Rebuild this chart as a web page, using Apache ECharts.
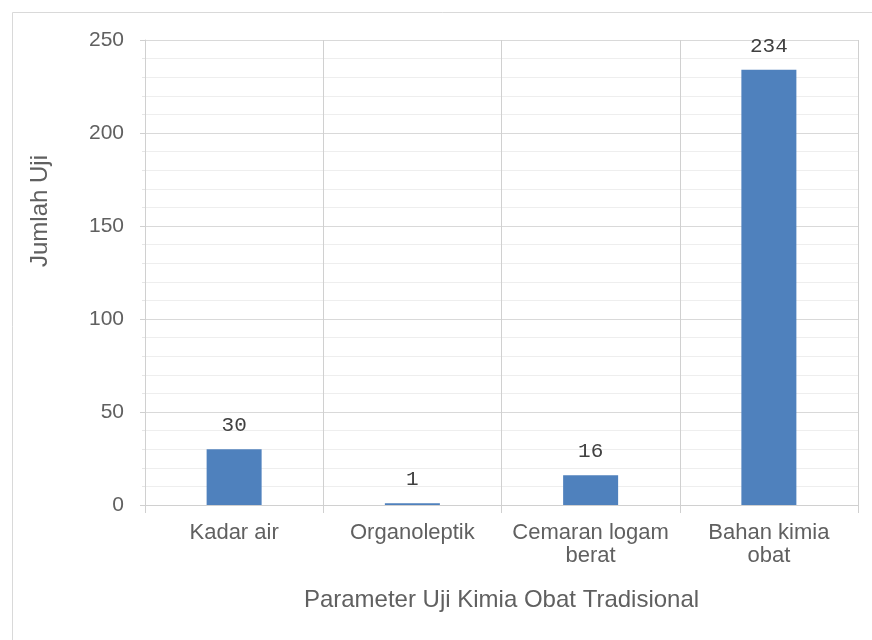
<!DOCTYPE html>
<html>
<head>
<meta charset="utf-8">
<script src="https://cdn.jsdelivr.net/npm/echarts@6/dist/echarts.min.js"></script>
<style>
html,body{margin:0;padding:0;background:#fff;}
#c{width:872px;height:640px;}
</style>
</head>
<body>
<div id="c"></div>
<script>
var categories = ['Kadar air', 'Organoleptik', 'Cemaran logam\nberat', 'Bahan kimia\nobat'];
var values = [30, 1, 16, 234];
var yTicks = [0, 50, 100, 150, 200, 250];
var xTitle = 'Parameter Uji Kimia Obat Tradisional';
var yTitle = 'Jumlah Uji';

var chart = echarts.init(document.getElementById('c'));
var textColor = '#606060';
chart.setOption({
  animation: false,
  backgroundColor: '#fff',
  grid: { left: 145, right: 14, top: 40, bottom: 135 },
  graphic: [
    { type: 'rect', shape: { x: 12.5, y: 12.5, width: 880, height: 660 },
      style: { fill: 'none', stroke: '#d9d9d9', lineWidth: 1 }, z: -1 },
    { type: 'text', x: 40, y: 211, rotation: Math.PI / 2,
      style: { text: yTitle, fill: textColor, font: '24px "Liberation Sans", Arial, sans-serif',
               align: 'center', verticalAlign: 'middle' } }
  ],
  xAxis: {
    type: 'category',
    data: categories,
    name: xTitle,
    nameLocation: 'middle',
    nameGap: 83,
    nameTextStyle: { color: textColor, fontSize: 24, fontFamily: 'Liberation Sans' },
    axisLine: { show: true, lineStyle: { color: '#d0d0d0' } },
    axisTick: { show: true, length: 8, lineStyle: { color: '#d0d0d0' } },
    splitLine: { show: true, lineStyle: { color: '#d0d0d0' } },
    axisLabel: { color: textColor, fontSize: 22, fontFamily: 'Liberation Sans', margin: 16, lineHeight: 23, interval: 0 }
  },
  yAxis: {
    type: 'value',
    min: yTicks[0],
    max: yTicks[yTicks.length - 1],
    interval: 50,
    axisLine: { show: true, lineStyle: { color: '#d0d0d0' } },
    axisTick: { show: true, length: 5, lineStyle: { color: '#d0d0d0' } },
    minorTick: { show: true, splitNumber: 5, length: 3, lineStyle: { color: '#e6e6e6' } },
    splitLine: { show: true, lineStyle: { color: '#d9d9d9' } },
    minorSplitLine: { show: true, lineStyle: { color: '#eeeeee' } },
    axisLabel: { color: textColor, fontSize: 21, fontFamily: 'Liberation Sans', margin: 21 }
  },
  series: [{
    type: 'bar',
    data: values,
    barWidth: 55,
    itemStyle: { color: '#4f81bd' },
    label: {
      show: true, position: 'top', distance: 13,
      color: '#404040', fontSize: 21, fontFamily: 'Liberation Mono'
    }
  }]
});
</script>
</body>
</html>
